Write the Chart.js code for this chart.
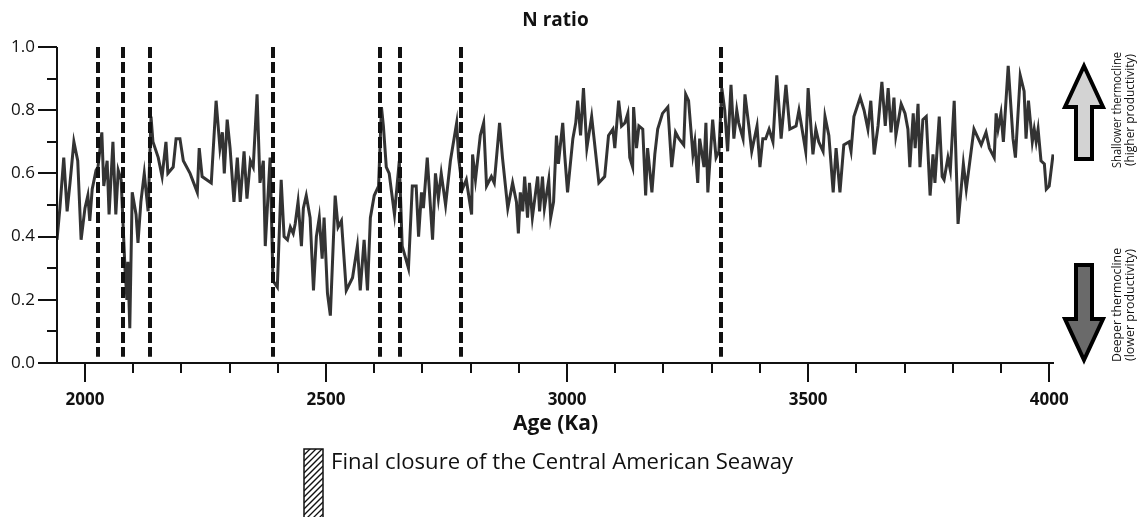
<!DOCTYPE html>
<html>
<head>
<meta charset="utf-8">
<script src="https://cdn.jsdelivr.net/npm/chart.js@4"></script>
<style>
  html, body { margin: 0; padding: 0; background: #fff; }
  #wrap { width: 1146px; height: 517px; position: relative; }
</style>
</head>
<body>
<div id="wrap"><canvas id="nChart" width="1146" height="517"></canvas></div>
<script>
// Age (ka) of each sample
const ages = [
  1942, 1948, 1956, 1963, 1969, 1977, 1985, 1992, 2000, 2006, 2010, 2015, 2023, 2027, 2035, 2039,
  2046, 2050, 2058, 2064, 2069, 2075, 2083, 2087, 2089, 2093, 2098, 2106, 2110, 2116, 2123, 2131,
  2137, 2141, 2152, 2160, 2168, 2172, 2183, 2189, 2197, 2204, 2218, 2233, 2237, 2243, 2262, 2272,
  2280, 2285, 2289, 2295, 2301, 2309, 2316, 2322, 2330, 2336, 2343, 2349, 2357, 2363, 2370, 2374,
  2384, 2390, 2399, 2407, 2413, 2420, 2426, 2432, 2436, 2442, 2449, 2453, 2459, 2467, 2474, 2480,
  2486, 2492, 2496, 2503, 2509, 2519, 2525, 2532, 2542, 2555, 2565, 2571, 2579, 2586, 2592, 2600,
  2609, 2615, 2619, 2625, 2631, 2642, 2652, 2658, 2671, 2679, 2687, 2692, 2698, 2702, 2710, 2721,
  2727, 2733, 2739, 2748, 2758, 2771, 2775, 2783, 2791, 2802, 2804, 2810, 2820, 2827, 2833, 2843,
  2849, 2860, 2866, 2877, 2887, 2895, 2899, 2903, 2908, 2912, 2918, 2922, 2928, 2939, 2943, 2949,
  2953, 2962, 2966, 2972, 2978, 2982, 2991, 2995, 3001, 3012, 3018, 3022, 3028, 3034, 3041, 3051,
  3066, 3078, 3086, 3095, 3099, 3107, 3113, 3120, 3126, 3130, 3136, 3138, 3144, 3149, 3157, 3163,
  3167, 3176, 3182, 3188, 3198, 3209, 3217, 3225, 3232, 3242, 3246, 3252, 3261, 3265, 3271, 3275,
  3284, 3288, 3292, 3302, 3309, 3315, 3321, 3327, 3333, 3340, 3346, 3352, 3356, 3365, 3369, 3377,
  3383, 3394, 3400, 3406, 3412, 3419, 3427, 3435, 3444, 3454, 3462, 3475, 3481, 3495, 3500, 3510,
  3516, 3522, 3531, 3535, 3543, 3552, 3558, 3566, 3574, 3585, 3589, 3595, 3608, 3616, 3624, 3630,
  3637, 3645, 3653, 3660, 3666, 3672, 3678, 3682, 3693, 3701, 3707, 3711, 3718, 3722, 3728, 3732,
  3738, 3745, 3753, 3759, 3763, 3772, 3778, 3782, 3790, 3795, 3803, 3811, 3822, 3828, 3844, 3859,
  3869, 3876, 3886, 3890, 3894, 3900, 3905, 3915, 3925, 3930, 3940, 3948, 3952, 3957, 3965, 3969,
  3973, 3977, 3983, 3990, 3994, 4000, 4008
];

// N ratio measured at each age
const nRatio = [
  0.39, 0.49, 0.65, 0.48, 0.57, 0.70, 0.64, 0.39, 0.49, 0.53, 0.45, 0.55, 0.61, 0.62, 0.73, 0.56,
  0.64, 0.47, 0.70, 0.47, 0.61, 0.58, 0.30, 0.20, 0.32, 0.11, 0.54, 0.47, 0.38, 0.51, 0.60, 0.48,
  0.78, 0.70, 0.65, 0.59, 0.70, 0.60, 0.62, 0.71, 0.71, 0.64, 0.60, 0.54, 0.68, 0.59, 0.57, 0.83,
  0.68, 0.73, 0.60, 0.77, 0.68, 0.51, 0.65, 0.51, 0.67, 0.52, 0.64, 0.62, 0.85, 0.57, 0.64, 0.37,
  0.65, 0.26, 0.24, 0.58, 0.40, 0.39, 0.43, 0.41, 0.44, 0.51, 0.37, 0.49, 0.53, 0.46, 0.23, 0.40,
  0.46, 0.33, 0.46, 0.22, 0.15, 0.53, 0.43, 0.45, 0.23, 0.27, 0.37, 0.23, 0.39, 0.23, 0.46, 0.53,
  0.56, 0.81, 0.75, 0.62, 0.60, 0.47, 0.64, 0.37, 0.30, 0.56, 0.56, 0.40, 0.54, 0.49, 0.65, 0.39,
  0.60, 0.52, 0.60, 0.50, 0.64, 0.76, 0.65, 0.55, 0.58, 0.47, 0.66, 0.58, 0.72, 0.76, 0.56, 0.59,
  0.57, 0.76, 0.65, 0.49, 0.57, 0.51, 0.41, 0.54, 0.48, 0.59, 0.46, 0.57, 0.46, 0.59, 0.48, 0.59,
  0.49, 0.58, 0.46, 0.51, 0.72, 0.63, 0.76, 0.66, 0.54, 0.71, 0.76, 0.83, 0.72, 0.87, 0.68, 0.78,
  0.57, 0.59, 0.72, 0.74, 0.68, 0.83, 0.75, 0.76, 0.79, 0.65, 0.62, 0.81, 0.68, 0.75, 0.74, 0.53,
  0.68, 0.54, 0.66, 0.74, 0.79, 0.81, 0.62, 0.73, 0.71, 0.69, 0.85, 0.83, 0.66, 0.70, 0.57, 0.71,
  0.62, 0.76, 0.54, 0.77, 0.65, 0.67, 0.87, 0.80, 0.67, 0.88, 0.71, 0.80, 0.76, 0.71, 0.85, 0.75,
  0.67, 0.75, 0.62, 0.71, 0.71, 0.74, 0.70, 0.91, 0.71, 0.88, 0.74, 0.75, 0.80, 0.67, 0.87, 0.66,
  0.74, 0.70, 0.67, 0.78, 0.72, 0.54, 0.68, 0.54, 0.69, 0.70, 0.67, 0.78, 0.84, 0.80, 0.74, 0.83,
  0.66, 0.75, 0.89, 0.75, 0.87, 0.73, 0.84, 0.72, 0.82, 0.79, 0.74, 0.62, 0.79, 0.68, 0.82, 0.62,
  0.77, 0.78, 0.53, 0.66, 0.57, 0.78, 0.59, 0.58, 0.65, 0.61, 0.83, 0.44, 0.63, 0.55, 0.74, 0.69,
  0.73, 0.68, 0.65, 0.79, 0.74, 0.79, 0.70, 0.94, 0.71, 0.65, 0.91, 0.86, 0.71, 0.83, 0.70, 0.74,
  0.70, 0.74, 0.64, 0.63, 0.55, 0.56, 0.66
];

// Seaway closure steps (dashed verticals)
const closureAges = [2027, 2079, 2135, 2390, 2613, 2654, 2781, 3319];

const AXIS_FONT = '"Open Sans", "DejaVu Sans", sans-serif';

// text squeezed/stretched horizontally to a given width
function fitText(ctx, text, x, y, width) {
    const w = ctx.measureText(text).width;
    ctx.save();
    ctx.translate(x, y);
    ctx.scale(width / w, 1);
    ctx.fillText(text, 0, 0);
    ctx.restore();
}

// axes, markers and side annotations drawn on top of the chart
const decor = {
    id: 'decor',
    afterDatasetsDraw(chart) {
        const ctx = chart.ctx;
        const x = chart.scales.x, y = chart.scales.y;
        ctx.save();
        ctx.strokeStyle = '#111';
        ctx.lineWidth = 4;
        ctx.setLineDash([11, 4]);
        closureAges.forEach(a => {
            const px = Math.round(x.getPixelForValue(a));
            ctx.beginPath();
            ctx.moveTo(px, y.getPixelForValue(1.0));
            ctx.lineTo(px, y.getPixelForValue(0.02));
            ctx.stroke();
        });
        ctx.restore();
    },
    afterDraw(chart) {
        const ctx = chart.ctx;
        const x = chart.scales.x, y = chart.scales.y;
        const area = chart.chartArea;
        ctx.save();
        ctx.strokeStyle = '#111';
        ctx.lineWidth = 2;

        // axis lines
        ctx.beginPath();
        ctx.moveTo(area.left, y.getPixelForValue(1.0));
        ctx.lineTo(area.left, area.bottom);
        ctx.lineTo(area.right, area.bottom);
        ctx.stroke();

        // y ticks
        y.ticks.forEach(t => {
            const k = Math.round(t.value * 10);
            const py = Math.round(y.getPixelForValue(k / 10));
            const len = k % 2 === 0 ? 19 : 10;
            ctx.beginPath();
            ctx.moveTo(area.left - len, py);
            ctx.lineTo(area.left, py);
            ctx.stroke();
        });

        // x ticks
        x.ticks.forEach(t => {
            if (t.value % 100 !== 0) return;
            const px = Math.round(x.getPixelForValue(t.value));
            const len = t.value % 500 === 0 ? 19 : 10;
            ctx.beginPath();
            ctx.moveTo(px, area.bottom);
            ctx.lineTo(px, area.bottom + len);
            ctx.stroke();
        });

        // titles
        ctx.fillStyle = '#111';
        ctx.textAlign = 'center';
        ctx.textBaseline = 'middle';
        ctx.font = 'bold 19px ' + AXIS_FONT;
        ctx.fillText('N ratio', (area.left + area.right) / 2, 21);
        ctx.font = 'bold 21px ' + AXIS_FONT;
        ctx.fillText('Age (Ka)', (area.left + area.right) / 2, 424);

        // thermocline arrows
        drawArrow(ctx, 1084, 66, 159, '#d3d3d3');
        drawArrow(ctx, 1084, 360, 265, '#6a6a6a');

        ctx.font = '13px ' + AXIS_FONT;
        sideText(ctx, 1117, 110, 'Shallower thermocline', 116);
        sideText(ctx, 1130, 110, '(higher productivity)', 112);
        sideText(ctx, 1117, 305, 'Deeper thermocline', 114);
        sideText(ctx, 1130, 305, '(lower productivity)', 112);

        // legend: hatched box
        const bx = 304, by = 449, bw = 19, bh = 80;
        ctx.save();
        ctx.beginPath();
        ctx.rect(bx, by, bw, bh);
        ctx.clip();
        ctx.lineWidth = 1.3;
        for (let d = -bw; d < bh + bw; d += 6) {
            ctx.beginPath();
            ctx.moveTo(bx, by + d + bw);
            ctx.lineTo(bx + bw, by + d);
            ctx.stroke();
        }
        ctx.restore();
        ctx.lineWidth = 1.5;
        ctx.strokeRect(bx, by, bw, bh);

        ctx.textAlign = 'left';
        ctx.font = '21px ' + AXIS_FONT;
        fitText(ctx, 'Final closure of the Central American Seaway', 331, 463, 462);
        ctx.restore();
    }
};

function drawArrow(ctx, cx, tipY, tailY, fill) {
    const dir = tipY < tailY ? 1 : -1;
    const headLen = 41, headHalf = 19, shaftHalf = 8;
    const baseY = tipY + dir * headLen;
    ctx.save();
    ctx.beginPath();
    ctx.moveTo(cx, tipY);
    ctx.lineTo(cx + headHalf, baseY);
    ctx.lineTo(cx + shaftHalf, baseY);
    ctx.lineTo(cx + shaftHalf, tailY);
    ctx.lineTo(cx - shaftHalf, tailY);
    ctx.lineTo(cx - shaftHalf, baseY);
    ctx.lineTo(cx - headHalf, baseY);
    ctx.closePath();
    ctx.fillStyle = fill;
    ctx.fill();
    ctx.lineWidth = 4;
    ctx.lineJoin = 'miter';
    ctx.strokeStyle = '#000';
    ctx.stroke();
    ctx.restore();
}

function sideText(ctx, x, y, text, len) {
    ctx.save();
    ctx.translate(x, y);
    ctx.rotate(-Math.PI / 2);
    ctx.textAlign = 'left';
    ctx.textBaseline = 'middle';
    ctx.fillStyle = '#111';
    fitText(ctx, text, -len / 2, 0, len);
    ctx.restore();
}

const ctx = document.getElementById('nChart').getContext('2d');
const nChart = new Chart(ctx, {
    type: 'line',
    data: {
        datasets: [{
            label: 'N ratio',
            data: ages.map((a, i) => ({ x: a, y: nRatio[i] })),
            borderColor: '#333',
            borderWidth: 3,
            pointRadius: 0,
            tension: 0,
            borderJoinStyle: 'miter'
        }]
    },
    options: {
        responsive: false,
        animation: false,
        devicePixelRatio: 1,
        layout: { padding: { top: 47, right: 92, bottom: 94, left: 0 } },
        plugins: {
            legend: { display: false },
            tooltip: { enabled: false }
        },
        scales: {
            x: {
                type: 'linear',
                min: 1942,
                max: 4010,
                border: { display: false },
                grid: { display: false, drawTicks: false },
                afterFit: s => { s.height = 60; },
                ticks: {
                    stepSize: 100,
                    includeBounds: false,
                    autoSkip: false,
                    maxRotation: 0,
                    padding: 27,
                    color: '#111',
                    font: { family: AXIS_FONT, size: 17, weight: 'bold' },
                    callback: v => (v % 500 === 0 ? String(v) : '')
                }
            },
            y: {
                min: 0,
                max: 1,
                border: { display: false },
                grid: { display: false, drawTicks: false },
                afterFit: s => { s.width = 57; },
                ticks: {
                    stepSize: 0.1,
                    padding: 22,
                    color: '#111',
                    font: { family: AXIS_FONT, size: 17 },
                    callback: v => (Math.round(v * 10) % 2 === 0 ? v.toFixed(1) : '')
                }
            }
        }
    },
    plugins: [decor]
});
</script>
</body>
</html>
